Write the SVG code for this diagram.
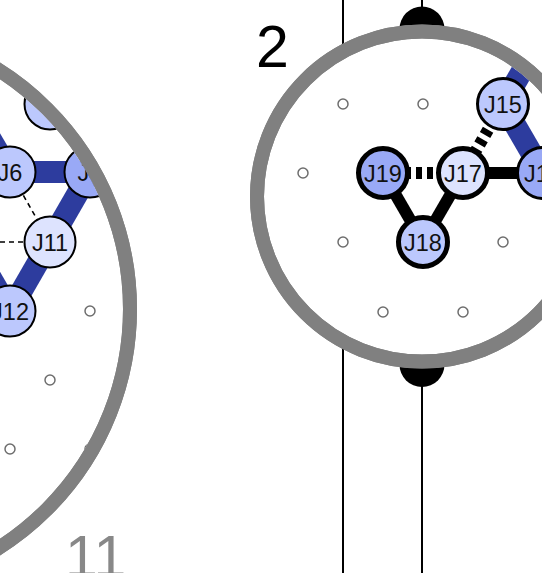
<svg xmlns="http://www.w3.org/2000/svg" width="542" height="573" viewBox="0 0 542 573">
<style>
.ring{fill:#fff;stroke:#808080;stroke-width:14}
.blue{stroke:#2d3c9e;stroke-width:22;stroke-linecap:butt;fill:none}
.blk{stroke:#000;stroke-width:12;fill:none}
.bdash{stroke:#000;stroke-width:12;stroke-dasharray:6 5;fill:none}
.tdash{stroke:#000;stroke-width:1.6;stroke-dasharray:5 4;fill:none}
.dot{fill:#fff;stroke:#6e6e6e;stroke-width:1.5}
.vline{stroke:#000;stroke-width:2}
.n circle{stroke:#000}
.n text{font-family:"Liberation Sans",Arial,sans-serif;font-size:23.5px;text-anchor:middle;fill:#111}
.c1{fill:#dde3fe}.c2{fill:#bcc8fd}.c3{fill:#99a9f6}
.big{font-family:"Liberation Sans",Arial,sans-serif;font-size:59px}
</style>
<defs>
<clipPath id="clipL"><circle cx="-153" cy="309" r="276"/></clipPath>
<clipPath id="clipR"><circle cx="422" cy="196.5" r="158"/></clipPath>
</defs>

<g id="frame">
<line class="vline" x1="343" y1="0" x2="343" y2="573"/>
<line class="vline" x1="422" y1="0" x2="422" y2="573" stroke-width="2.4"/>
<circle cx="422" cy="29" r="22.5" fill="#000"/>
<circle cx="422" cy="364.5" r="22.5" fill="#000"/>
<circle class="ring" cx="-153" cy="309" r="283"/>
<circle class="ring" cx="422" cy="196.5" r="165"/>
</g>

<g id="left" clip-path="url(#clipL)">
<g id="connectors-left">
<line class="blue" x1="10" y1="172" x2="90" y2="172"/>
<line class="blue" x1="90" y1="172" x2="10" y2="311"/>
<line class="blue" x1="10" y1="172" x2="-30" y2="104"/>
<line class="blue" x1="10" y1="311" x2="-30" y2="242"/>
<line class="tdash" x1="10" y1="172" x2="50" y2="242"/>
<line class="tdash" x1="50" y1="242" x2="-30" y2="242"/>
</g>
<circle class="dot" cx="90" cy="311" r="5"/>
<circle class="dot" cx="50" cy="380" r="5"/>
<circle class="dot" cx="10" cy="449" r="5"/>
<circle class="dot" cx="90" cy="449" r="5"/>
<g id="J5" class="n"><circle class="c2" cx="50" cy="104" r="25.5" stroke-width="2"/></g>
<g id="J6" class="n"><circle class="c2" cx="10" cy="172" r="25.5" stroke-width="2"/><text x="10" y="180.5">J6</text></g>
<g id="J7" class="n"><circle class="c3" cx="90" cy="172" r="25.5" stroke-width="2"/><text x="90" y="180.5">J7</text></g>
<g id="J11" class="n"><circle class="c1" cx="50" cy="242" r="25.5" stroke-width="2"/><text x="50" y="250.5">J11</text></g>
<g id="J12" class="n"><circle class="c2" cx="10" cy="311" r="25.5" stroke-width="2"/><text x="10" y="319.5">J12</text></g>
</g>
<circle cx="-153" cy="309" r="283" fill="none" stroke="#808080" stroke-width="14"/>

<g id="right" clip-path="url(#clipR)">
<g id="connectors-right">
<line class="blue" x1="503" y1="104" x2="543" y2="35" stroke-width="20"/>
<line class="blue" x1="503" y1="104" x2="543" y2="173" stroke-width="20"/>
<line class="blk" x1="463" y1="173" x2="543" y2="173"/>
<line class="blk" x1="463" y1="173" x2="423" y2="242"/>
<line class="blk" x1="383" y1="173" x2="423" y2="242"/>
<line class="bdash" x1="383" y1="173" x2="463" y2="173"/>
<line class="bdash" x1="463" y1="173" x2="503" y2="104"/>
</g>
<circle class="dot" cx="343" cy="104" r="5"/>
<circle class="dot" cx="423" cy="104" r="5"/>
<circle class="dot" cx="303" cy="173" r="5"/>
<circle class="dot" cx="343" cy="242" r="5"/>
<circle class="dot" cx="503" cy="242" r="5"/>
<circle class="dot" cx="383" cy="312" r="5"/>
<circle class="dot" cx="463" cy="312" r="5"/>
<g id="J15" class="n"><circle class="c2" cx="503" cy="104" r="25.5" stroke-width="3"/><text x="503" y="112.5">J15</text></g>
<g id="J16" class="n"><circle class="c3" cx="543" cy="173" r="25.5" stroke-width="3"/><text x="543" y="181.5">J16</text></g>
<g id="J17" class="n"><circle class="c1" cx="463" cy="173" r="24.5" stroke-width="5"/><text x="463" y="181.5">J17</text></g>
<g id="J19" class="n"><circle class="c3" cx="383" cy="173" r="24.5" stroke-width="5"/><text x="383" y="181.5">J19</text></g>
<g id="J18" class="n"><circle class="c2" cx="423" cy="242" r="24.5" stroke-width="5"/><text x="423" y="250.5">J18</text></g>
</g>
<circle cx="422" cy="196.5" r="165" fill="none" stroke="#808080" stroke-width="14"/>

<text class="big" x="256" y="67" fill="#000">2</text>
<text class="big" x="65" y="577" fill="#888">11</text>
</svg>
